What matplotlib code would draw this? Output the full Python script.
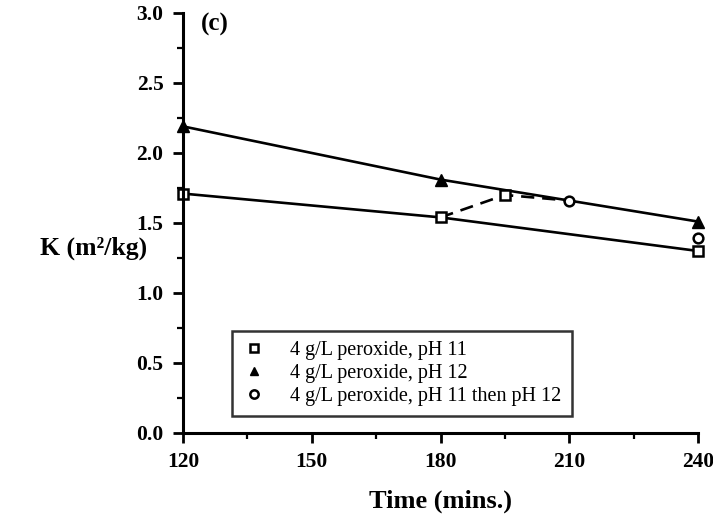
import matplotlib
matplotlib.use("Agg")
import matplotlib.pyplot as plt
from matplotlib.ticker import MultipleLocator

plt.rcParams["font.family"] = ["Liberation Serif", "DejaVu Serif"]

# data
t_ph11 = [120, 180, 240]
k_ph11 = [1.71, 1.54, 1.30]

t_ph12 = [120, 180, 240]
k_ph12 = [2.19, 1.81, 1.51]

t_switch_line = [180, 195, 210]
k_switch_line = [1.54, 1.70, 1.66]
t_switch = [210, 240]
k_switch = [1.66, 1.39]
t_switch_sq = [195]
k_switch_sq = [1.70]

fig = plt.figure(figsize=(7.13, 5.17), dpi=100)
ax = fig.add_axes([0.2567, 0.1625, 0.7223, 0.8124])

ax.plot(t_switch_line, k_switch_line, "k--", lw=1.9, dashes=(5, 3))
ax.plot(t_ph11, k_ph11, "k-", lw=1.9, marker="s", mfc="white", mec="black",
        ms=7, mew=1.8, clip_on=False, label="4 g/L peroxide, pH 11")
ax.plot(t_ph12, k_ph12, "k-", lw=1.9, marker="^", mfc="black", mec="black",
        ms=8, clip_on=False, label="4 g/L peroxide, pH 12")
ax.plot(t_switch, k_switch, ls="none", marker="o", mfc="white", mec="black",
        ms=7, mew=1.8, clip_on=False, label="4 g/L peroxide, pH 11 then pH 12")
ax.plot(t_switch_sq, k_switch_sq, ls="none", marker="s", mfc="white", mec="black",
        ms=7, mew=1.8, clip_on=False)

ax.set_xlim(120, 240)
ax.set_ylim(0, 3.0)
ax.xaxis.set_major_locator(MultipleLocator(30))
ax.xaxis.set_minor_locator(MultipleLocator(15))
ax.yaxis.set_major_locator(MultipleLocator(0.5))
ax.yaxis.set_minor_locator(MultipleLocator(0.25))
ax.yaxis.set_major_formatter(matplotlib.ticker.FormatStrFormatter("%.1f"))

for s in ["top", "right"]:
    ax.spines[s].set_visible(False)
for s in ["left", "bottom"]:
    ax.spines[s].set_linewidth(2.2)

ax.tick_params(which="major", direction="out", length=7, width=2, pad=7,
               labelsize=15.5)
ax.tick_params(which="minor", direction="out", length=4, width=1.6)
for lab in ax.get_xticklabels() + ax.get_yticklabels():
    lab.set_fontweight("bold")

ax.set_xlabel("Time (mins.)", fontsize=19, fontweight="bold", labelpad=12)
ax.set_ylabel("K (m²/kg)", fontsize=18.5, fontweight="bold", rotation=0,
              va="center", ha="right")
ax.yaxis.set_label_coords(-0.07, 0.44)

ax.text(0.035, 1.0, "(c)", transform=ax.transAxes, fontsize=18,
        fontweight="bold", va="top")

leg = ax.legend(loc="lower left", bbox_to_anchor=(0.095, 0.04), fontsize=14.5,
                frameon=True, fancybox=False, edgecolor="black",
                handlelength=1.2, handletextpad=1.2, borderpad=0.5,
                labelspacing=0.2, borderaxespad=0)
leg.get_frame().set_linewidth(1.8)
for h in leg.get_lines():
    h.set_linestyle("none")
    h.set_markersize(6)

fig.savefig("out.png", dpi=100)
